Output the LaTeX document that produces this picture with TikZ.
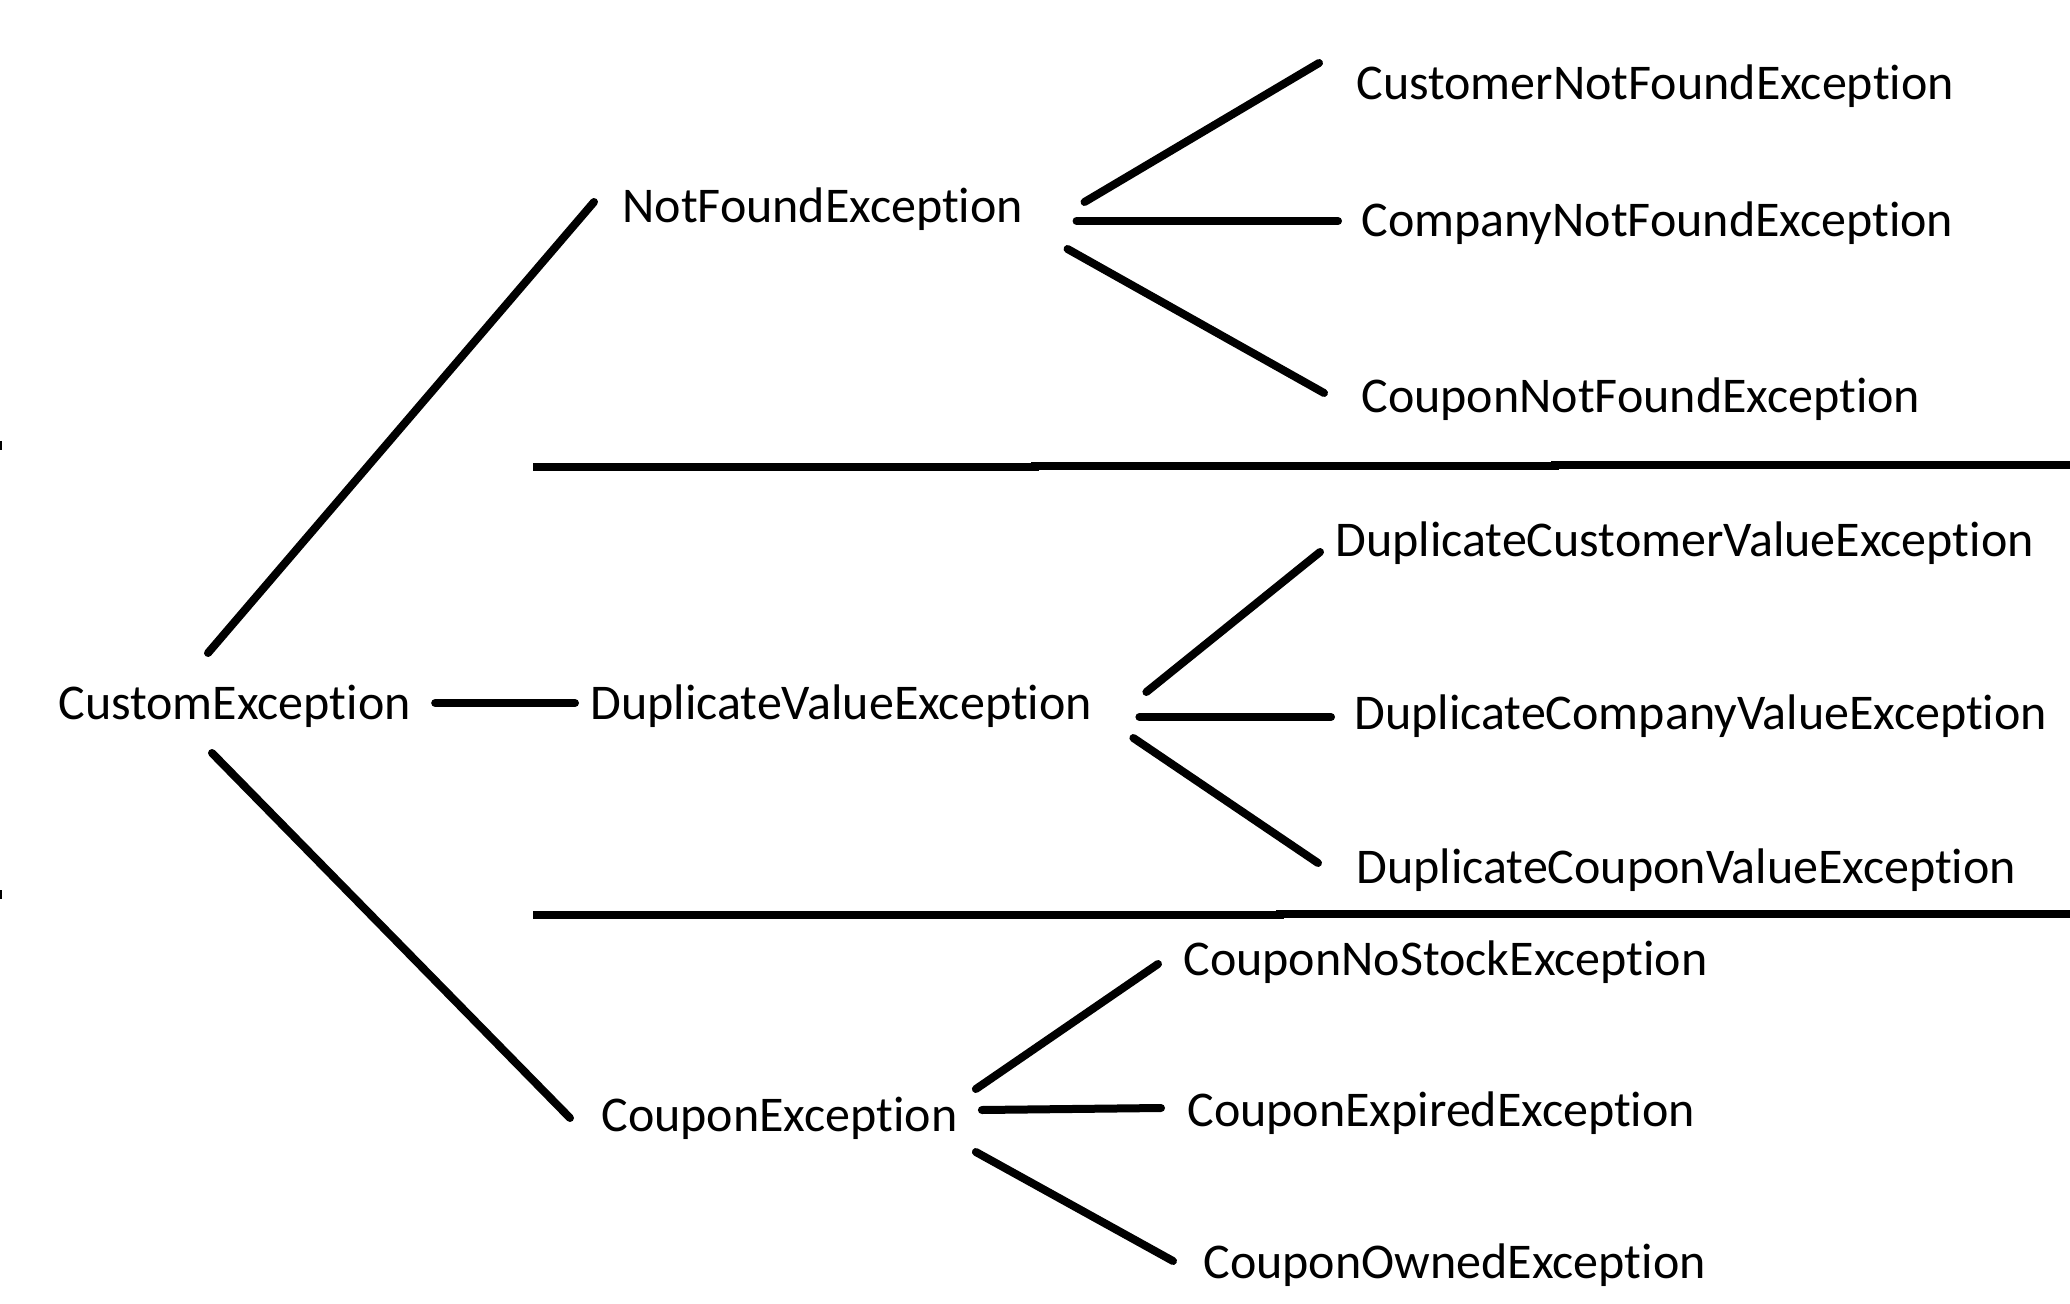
\documentclass[tikz,border=0pt]{standalone}
\usepackage{fontspec}
\setmainfont{Carlito}[Ligatures={NoCommon,NoContextual}]
\usetikzlibrary{calc}
\tikzset{
  lbl/.style={anchor=base west, inner sep=0pt, font=\fontsize{25}{30}\selectfont},
  conn/.style={line width=4pt, line cap=round},
  sep/.style={line width=4pt, line cap=butt},
  tick/.style={line width=1pt}
}
\begin{document}
\begin{tikzpicture}[x=0.5pt,y=-0.5pt]
\useasboundingbox (0,0) rectangle (2070,1304);
% nodes
\node[lbl] (ce)   at (58,719)   {CustomException};
\node[lbl] (nf)   at (622,223)  {NotFoundException};
\node[lbl] (dv)   at (590,719)  {DuplicateValueException};
\node[lbl] (co)   at (601,1131) {CouponException};
\node[lbl] (cnf1) at (1356,100) {CustomerNotFoundException};
\node[lbl] (cnf2) at (1361,237) {CompanyNotFoundException};
\node[lbl] (cnf3) at (1361,413) {CouponNotFoundException};
\node[lbl] (dcu)  at (1335,556) {DuplicateCustomerValueException};
\node[lbl] (dcm)  at (1354,729) {DuplicateCompanyValueException};
\node[lbl] (dcp)  at (1356,883) {DuplicateCouponValueException};
\node[lbl] (cns)  at (1183,975) {CouponNoStockException};
\node[lbl] (cex)  at (1187,1126){CouponExpiredException};
\node[lbl] (cow)  at (1203,1278){CouponOwnedException};
% separators
\draw[sep] (533,467) -- (1035,467) -- (1035,466) -- (1555,466) -- (1555,465) -- (2070,465);
\draw[sep] (533,915) -- (1280,915) -- (1280,914) -- (2070,914);
% edge ticks
\draw[tick] (0.5,441) -- (0.5,450);
\draw[tick] (0.5,890) -- (0.5,899);
% connectors level 1
\draw[conn] ($(ce.base west)+(150,-66)$) -- ($(nf.base west)+(-28,-21)$);
\draw[conn] ($(ce.base east)+(24,-16)$) -- ($(dv.base west)+(-15,-16)$);
\draw[conn] ($(ce.base west)+(154,34)$) -- ($(co.base west)+(-31,-13)$);
% connectors level 2
\draw[conn] ($(nf.base east)+(61,-21)$) -- ($(cnf1.base west)+(-37,-37)$);
\draw[conn] ($(nf.base east)+(53,-2)$) -- ($(cnf2.base west)+(-23,-16)$);
\draw[conn] ($(nf.base east)+(44,26)$) -- ($(cnf3.base west)+(-37,-20)$);
\draw[conn] ($(dv.base east)+(54,-27)$) -- ($(dcu.base west)+(-15,-4)$);
\draw[conn] ($(dv.base east)+(47,-2)$) -- ($(dcm.base west)+(-23,-12)$);
\draw[conn] ($(dv.base east)+(41,19)$) -- ($(dcp.base west)+(-38,-20)$);
\draw[conn] ($(co.base east)+(18,-42)$) -- ($(cns.base west)+(-25,-11)$);
\draw[conn] ($(co.base east)+(24,-21)$) -- ($(cex.base west)+(-26,-18)$);
\draw[conn] ($(co.base east)+(18,21)$) -- ($(cow.base west)+(-30,-17)$);
\end{tikzpicture}
\end{document}
